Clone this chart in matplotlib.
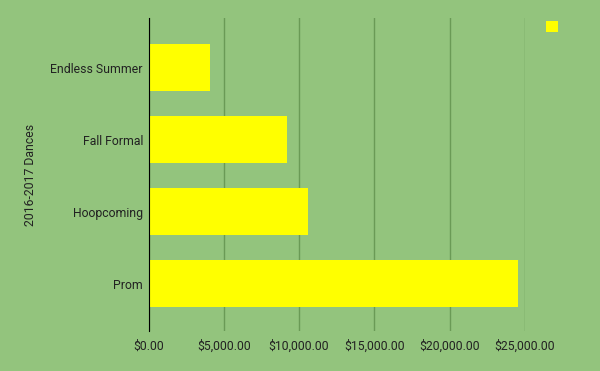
import matplotlib.pyplot as plt
from matplotlib.ticker import FuncFormatter

dances = ["Endless Summer", "Fall Formal", "Hoopcoming", "Prom"]
costs = [4080, 9200, 10590, 24530]
ticks = [0, 5000, 10000, 15000, 20000, 25000]

bg = "#93c47d"
plt.rcParams['font.family'] = ['Roboto', 'DejaVu Sans']

fig = plt.figure(figsize=(6, 3.71), dpi=100, facecolor=bg)
ax = fig.add_axes([0.2475, 0.1078, 0.6275, 0.8437], facecolor=bg)

ypos = list(range(len(dances)))
ax.barh(ypos, costs, height=0.65, color="#ffff00", zorder=3, label=" ")

ax.set_ylim(len(dances) - 1 + 0.66, -0.69)
ax.set_xlim(0, 25000)
ax.set_yticks(ypos)
ax.set_yticklabels(dances)
ax.set_xticks(ticks)
ax.xaxis.set_major_formatter(FuncFormatter(lambda v, p: f"${v:,.2f}"))
ax.grid(axis="x", color="#6a9a56", linewidth=1, zorder=0)
ax.tick_params(length=0, labelsize=8.8, colors="#222222")
ax.tick_params(axis="x", pad=6)
ax.tick_params(axis="y", pad=4)
for s in ["top", "right", "bottom"]:
    ax.spines[s].set_visible(False)
ax.spines["left"].set_color("black")
ax.spines["left"].set_zorder(4)
ax.set_ylabel("2016-2017 Dances", fontsize=8.8, color="#222222", labelpad=10)

ax.legend(loc="upper left", bbox_to_anchor=(1.055, 0.99), frameon=False,
          handlelength=1.0, handleheight=1.0, handletextpad=0.1,
          borderaxespad=0, borderpad=0, fontsize=9)

fig.savefig("out.png", dpi=100, facecolor=bg)
